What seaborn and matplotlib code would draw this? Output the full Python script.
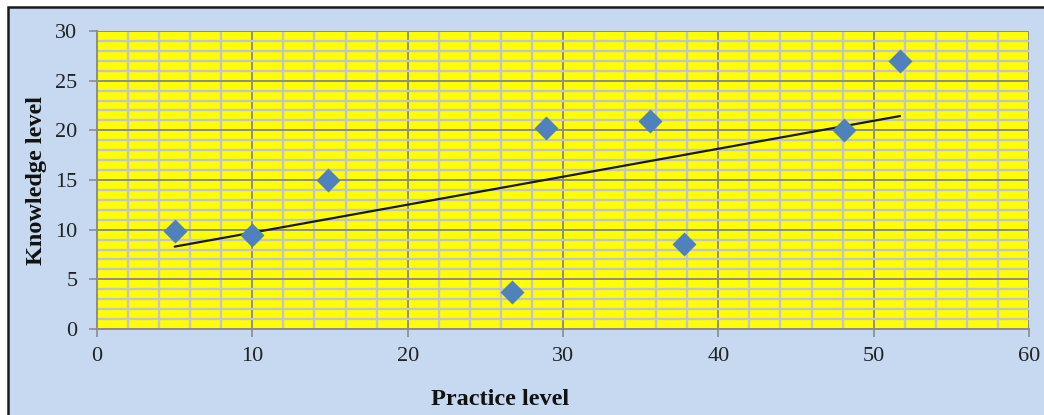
import numpy as np
import pandas as pd
import seaborn as sns
import matplotlib
matplotlib.use("Agg")
import matplotlib.pyplot as plt
from matplotlib.patches import Rectangle
from matplotlib.ticker import MultipleLocator

practice = [5.0, 10.0, 14.9, 26.7, 28.9, 35.6, 37.8, 48.1, 51.7]
knowledge = [9.9, 9.5, 15.0, 3.7, 20.2, 20.9, 8.6, 20.0, 27.0]
x_ticks = [0, 10, 20, 30, 40, 50, 60]
y_ticks = [0, 5, 10, 15, 20, 25, 30]

df = pd.DataFrame({"Practice level": practice, "Knowledge level": knowledge})

sns.set_theme(style="white")
plt.rcParams["font.family"] = ["Liberation Serif", "DejaVu Serif"]

fig = plt.figure(figsize=(10.44, 4.15), dpi=100)
fig.patch.set_facecolor("white")
W, H = 1044, 415
bg = Rectangle((8 / W, -0.01), 1.02, 1 - 7 / H + 0.01, transform=fig.transFigure,
               facecolor="#C6D9F1", edgecolor="#1a1a1a", linewidth=1.8, zorder=-10)
fig.patches.append(bg)

ax = fig.add_axes([97 / W, 1 - 329 / H, (1029 - 97) / W, (329 - 31) / H])
ax.set_facecolor("#FFFF00")

sns.regplot(data=df, x="Practice level", y="Knowledge level", ax=ax, ci=None,
            marker="D",
            scatter_kws=dict(s=150, color="#4F81BD", edgecolor="#4F81BD", linewidths=0, zorder=5, alpha=1),
            line_kws=dict(color="#1a1a1a", linewidth=1.6, zorder=4))

ax.set_xlim(0, 60)
ax.set_ylim(0, 30)
ax.set_xticks(x_ticks)
ax.set_yticks(y_ticks)
ax.xaxis.set_minor_locator(MultipleLocator(2))
ax.yaxis.set_minor_locator(MultipleLocator(1))
ax.grid(which="minor", color="#C4C4C4", linewidth=1.7, zorder=1)
ax.grid(which="major", color="#8C8C8C", linewidth=1.4, zorder=2)
ax.set_axisbelow(True)

for s in ["top", "right"]:
    ax.spines[s].set_visible(False)
for s in ["left", "bottom"]:
    ax.spines[s].set_color("#8C8C8C")
    ax.spines[s].set_linewidth(1.4)

ax.tick_params(axis="both", which="major", direction="out", length=6, width=1.2,
               color="#8C8C8C", labelsize=16, labelcolor="#222222",
               left=True, bottom=True)
ax.tick_params(axis="y", which="major", pad=8)
ax.tick_params(axis="x", which="major", pad=7)
ax.tick_params(axis="both", which="minor", length=0)

ax.set_xlabel("Practice level", fontsize=17.5, fontweight="bold", color="#111111")
ax.set_ylabel("Knowledge level", fontsize=17.5, fontweight="bold", color="#111111")
ax.xaxis.set_label_coords((500 - 97) / 932, (329 - 389) / 298)
ax.yaxis.set_label_coords((47 - 97) / 932, 0.5)

fig.savefig("out.png", dpi=100, facecolor=fig.get_facecolor())
